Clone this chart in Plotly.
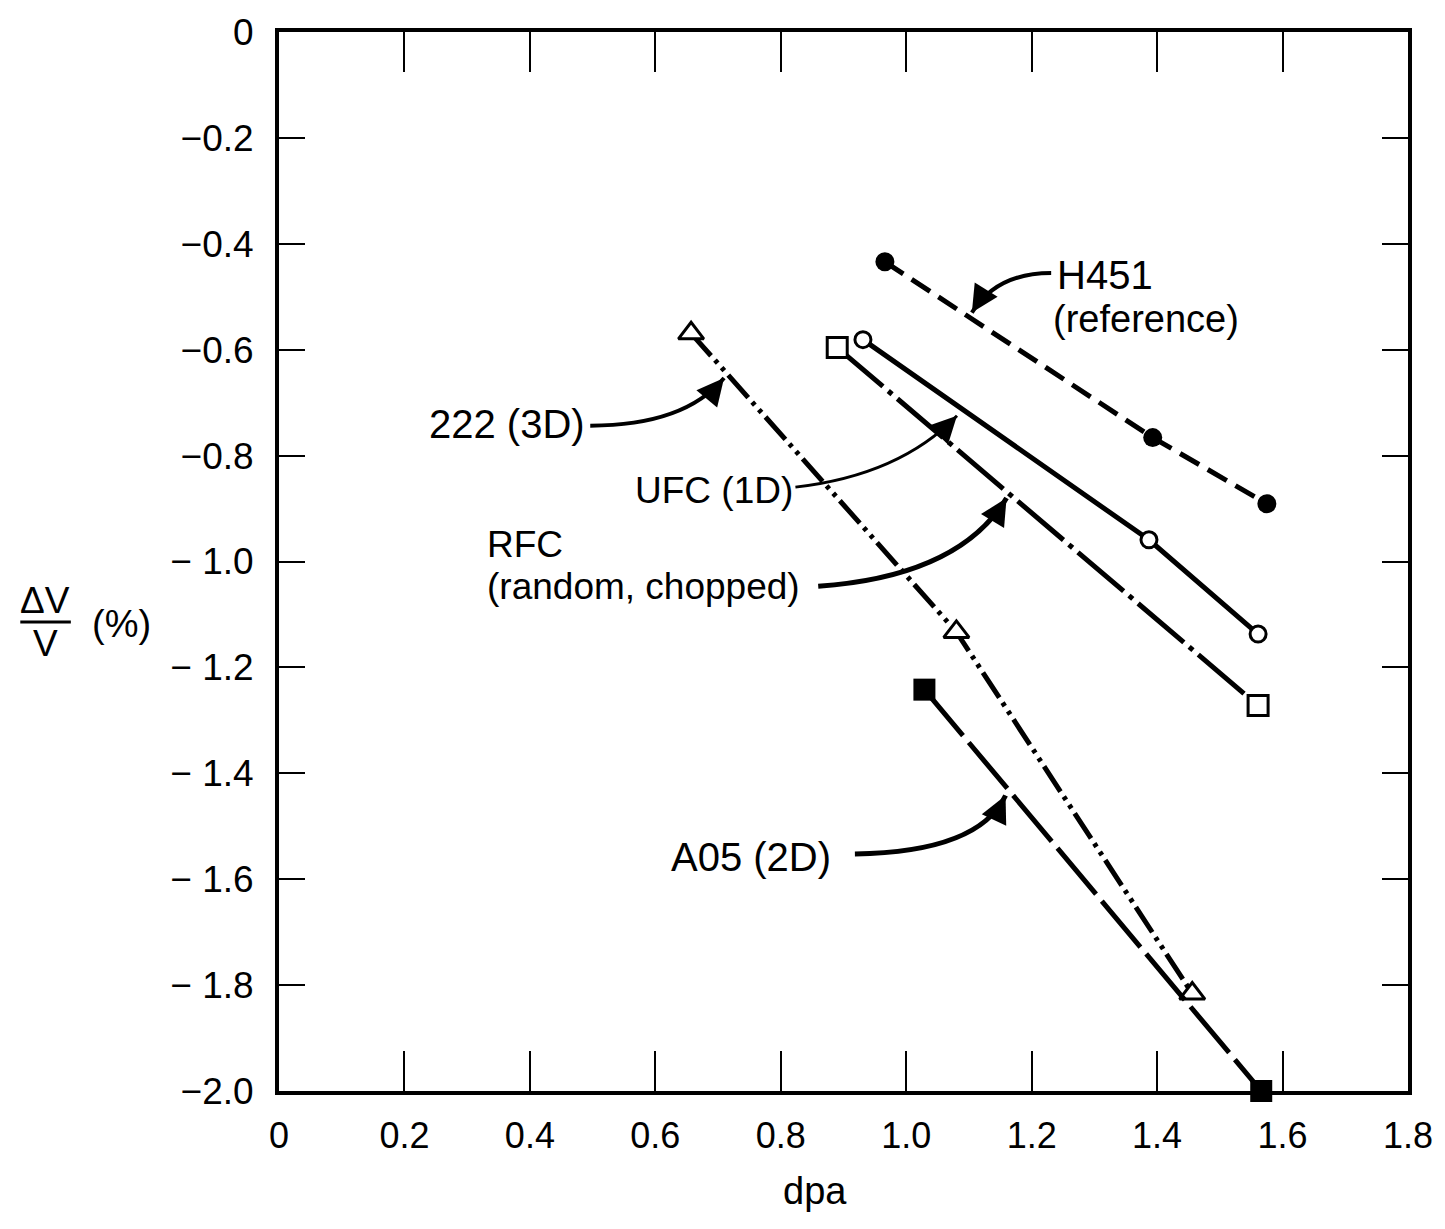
import plotly.graph_objects as go

# ---------------- data ----------------
h451_dpa = [0.966, 1.393, 1.575]
h451_dv = [-0.434, -0.766, -0.891]

ufc_dpa = [0.931, 1.387, 1.561]
ufc_dv = [-0.581, -0.959, -1.137]

rfc_dpa = [0.890, 1.561]
rfc_dv = [-0.596, -1.272]

g222_dpa = [0.657, 1.080, 1.456]
g222_dv = [-0.569, -1.133, -1.816]

a05_dpa = [1.029, 1.566]
a05_dv = [-1.242, -2.000]

x_tickvals = [0, 0.2, 0.4, 0.6, 0.8, 1.0, 1.2, 1.4, 1.6, 1.8]
x_ticktext = ["0", "0.2", "0.4", "0.6", "0.8", "1.0", "1.2", "1.4", "1.6", "1.8"]
y_tickvals = [0, -0.2, -0.4, -0.6, -0.8, -1.0, -1.2, -1.4, -1.6, -1.8, -2.0]
y_ticktext = ["0", "\u22120.2", "\u22120.4", "\u22120.6", "\u22120.8", "\u2212 1.0",
              "\u2212 1.2", "\u2212 1.4", "\u2212 1.6", "\u2212 1.8", "\u22122.0"]

# ---------------- layout geometry ----------------
W, H = 1445, 1229
ML, MR, MT, MB = 279, 27, 23, 138
XR = [0, 1.8]
YR = [-2.0, 0]
PW = W - ML - MR
PH = H - MT - MB


def dx(px):
    return XR[0] + (px - ML) / PW * (XR[1] - XR[0])


def dy(py):
    return YR[1] - (py - MT) / PH * (YR[1] - YR[0])


def paper_x(px):
    return (px - ML) / PW


def paper_y(py):
    return 1 - (py - MT) / PH


FONT = "Liberation Sans, Arial, sans-serif"
FS = 36

fig = go.Figure()

fig.add_trace(go.Scatter(
    x=h451_dpa, y=h451_dv, mode="lines+markers", name="H451",
    line=dict(color="black", width=5, dash="22px,10px"),
    marker=dict(symbol="circle", size=19, color="black"),
    cliponaxis=False))

fig.add_trace(go.Scatter(
    x=ufc_dpa, y=ufc_dv, mode="lines+markers", name="UFC (1D)",
    line=dict(color="black", width=5),
    marker=dict(symbol="circle", size=16, color="white",
                line=dict(color="black", width=3)),
    cliponaxis=False))

fig.add_trace(go.Scatter(
    x=rfc_dpa, y=rfc_dv, mode="lines+markers", name="RFC",
    line=dict(color="black", width=5, dash="60px,7px,5px,7px"),
    marker=dict(symbol="square", size=20, color="white",
                line=dict(color="black", width=3)),
    cliponaxis=False))

fig.add_trace(go.Scatter(
    x=g222_dpa, y=g222_dv, mode="lines+markers", name="222 (3D)",
    line=dict(color="black", width=5, dash="30px,6px,4px,6px,4px,6px"),
    marker=dict(symbol="triangle-up", size=22, color="white",
                line=dict(color="black", width=3)),
    cliponaxis=False))

fig.add_trace(go.Scatter(
    x=a05_dpa, y=a05_dv, mode="lines+markers", name="A05 (2D)",
    line=dict(color="black", width=5, dash="60px,9px"),
    marker=dict(symbol="square", size=22, color="black"),
    cliponaxis=False))

# ---------------- labels with curved arrows ----------------
labels = [
    # text, px, center py, anchor, size
    ("H451", 1062, 268, "left", 40),
    ("(reference)", 1058, 312, "left", 38),
    ("222 (3D)", 590, 418, "right", 40),
    ("UFC (1D)", 636, 485, "left", 37),
    ("RFC", 487, 540, "left", 37),
    ("(random, chopped)", 487, 582, "left", 37),
    ("A05 (2D)", 672, 855, "left", 40),
]
annotations = []
for txt, px, py, anc, fs in labels:
    annotations.append(dict(
        x=dx(px), y=dy(py), xref="x", yref="y", text=txt, showarrow=False,
        xanchor=anc, yanchor="middle", font=dict(family=FONT, size=fs, color="black")))

# curves: start, control, tip (pixel positions) and width
curves = [
    ((1058, 266), (1003, 266), (978, 306), 4),
    ((593, 420), (688, 420), (728, 372), 4),
    ((800, 482), (905, 470), (963, 410), 3),
    ((823, 582), (965, 572), (1013, 493), 5),
    ((860, 852), (985, 850), (1012, 793), 5),
]
shapes = []
for (s, c, t, w) in curves:
    path = "M {},{} Q {},{} {},{}".format(dx(s[0]), dy(s[1]), dx(c[0]), dy(c[1]),
                                          dx(t[0]), dy(t[1]))
    shapes.append(dict(type="path", path=path, xref="x", yref="y",
                       line=dict(color="black", width=w)))
    vx, vy = t[0] - c[0], t[1] - c[1]
    n = (vx ** 2 + vy ** 2) ** 0.5
    L = 18
    annotations.append(dict(
        x=dx(t[0]), y=dy(t[1]), xref="x", yref="y", text="", showarrow=True,
        ax=-vx / n * L, ay=-vy / n * L, arrowhead=2, arrowsize=1.8,
        arrowwidth=3, arrowcolor="black"))

# ---------------- axis titles ----------------
annotations.append(dict(x=paper_x(820), y=paper_y(1192), xref="paper", yref="paper",
                        text="dpa", showarrow=False, xanchor="center", yanchor="middle",
                        font=dict(family=FONT, size=38, color="black")))
annotations.append(dict(x=paper_x(43), y=paper_y(596), xref="paper", yref="paper",
                        text="\u0394V", showarrow=False, xanchor="center", yanchor="middle",
                        font=dict(family=FONT, size=37, color="black")))
annotations.append(dict(x=paper_x(43), y=paper_y(640), xref="paper", yref="paper",
                        text="V", showarrow=False, xanchor="center", yanchor="middle",
                        font=dict(family=FONT, size=37, color="black")))
annotations.append(dict(x=paper_x(120), y=paper_y(620), xref="paper", yref="paper",
                        text="(%)", showarrow=False, xanchor="center", yanchor="middle",
                        font=dict(family=FONT, size=38, color="black")))
shapes.append(dict(type="line", xref="paper", yref="paper",
                   x0=paper_x(18), x1=paper_x(69), y0=paper_y(618), y1=paper_y(618),
                   line=dict(color="black", width=3)))

fig.update_layout(
    width=W, height=H,
    margin=dict(l=ML, r=MR, t=MT, b=MB),
    paper_bgcolor="white", plot_bgcolor="white",
    showlegend=False,
    annotations=annotations,
    shapes=shapes,
    font=dict(family=FONT, size=FS, color="black"),
)
fig.update_xaxes(
    range=XR, tickvals=x_tickvals, ticktext=x_ticktext,
    ticks="inside", ticklen=40, tickwidth=2, tickcolor="black",
    showline=True, linewidth=4, linecolor="black", mirror="ticks",
    showgrid=False, zeroline=False, ticklabelstandoff=10,
    tickfont=dict(family=FONT, size=FS, color="black"))
fig.update_yaxes(
    range=YR, tickvals=y_tickvals, ticktext=y_ticktext,
    ticks="inside", ticklen=26, tickwidth=2, tickcolor="black",
    showline=True, linewidth=4, linecolor="black", mirror="ticks",
    showgrid=False, zeroline=False, ticklabelstandoff=14,
    tickfont=dict(family=FONT, size=37, color="black"))

fig.write_html("out.html", config={"displayModeBar": False},
               post_script="document.body.style.margin='0';"
                           "document.body.style.overflow='hidden';")
